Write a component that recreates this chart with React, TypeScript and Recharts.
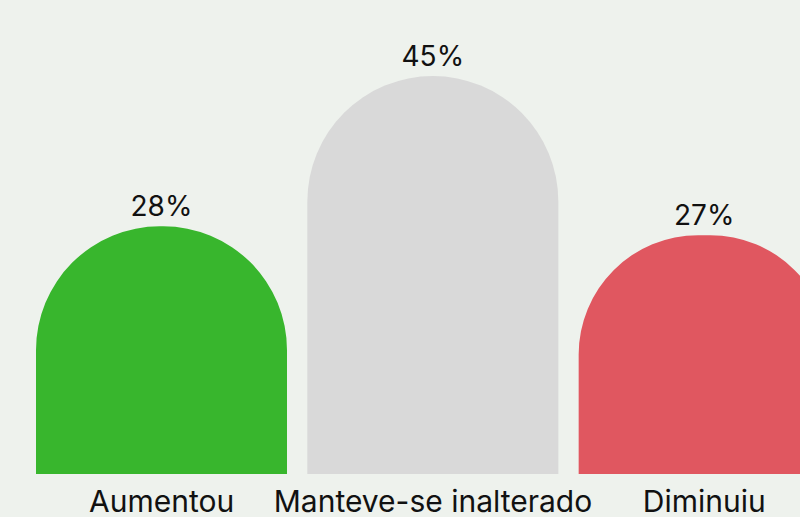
import React from "react";
import { BarChart, Bar, XAxis, YAxis, Cell, LabelList } from "recharts";

const categories = ["Aumentou", "Manteve-se inalterado", "Diminuiu"];
const values = [28, 45, 27];
const colors = ["#38B62D", "#D9D9D9", "#E05760"];

const data = categories.map((name, i) => ({ name, value: values[i] }));

const FONT = "Inter, 'Noto Sans', sans-serif";

export default function App() {
  return (
    <div
      style={{
        position: "absolute",
        left: 0,
        top: 0,
        width: 800,
        height: 517,
        overflow: "hidden",
        background: "#EEF2ED",
      }}
    >
      <BarChart
        width={860}
        height={517}
        data={data}
        margin={{ top: 76, right: 20, bottom: 0, left: 26 }}
        barCategoryGap={10}
      >
        <XAxis
          dataKey="name"
          axisLine={false}
          tickLine={false}
          tickSize={0}
          tickMargin={17}
          height={43}
          interval={0}
          tick={{ fill: "#111111", fontSize: 30, fontFamily: FONT, fontWeight: 400 }}
        />
        <YAxis hide domain={[0, 45]} />
        <Bar dataKey="value" radius={[126, 126, 0, 0]} isAnimationActive={false}>
          {data.map((d, i) => (
            <Cell key={d.name} fill={colors[i]} />
          ))}
          <LabelList
            dataKey="value"
            position="top"
            offset={10}
            formatter={(v: number) => `${v}%`}
            style={{ fill: "#111111", fontSize: 28, fontFamily: FONT, fontWeight: 400 }}
          />
        </Bar>
      </BarChart>
    </div>
  );
}
